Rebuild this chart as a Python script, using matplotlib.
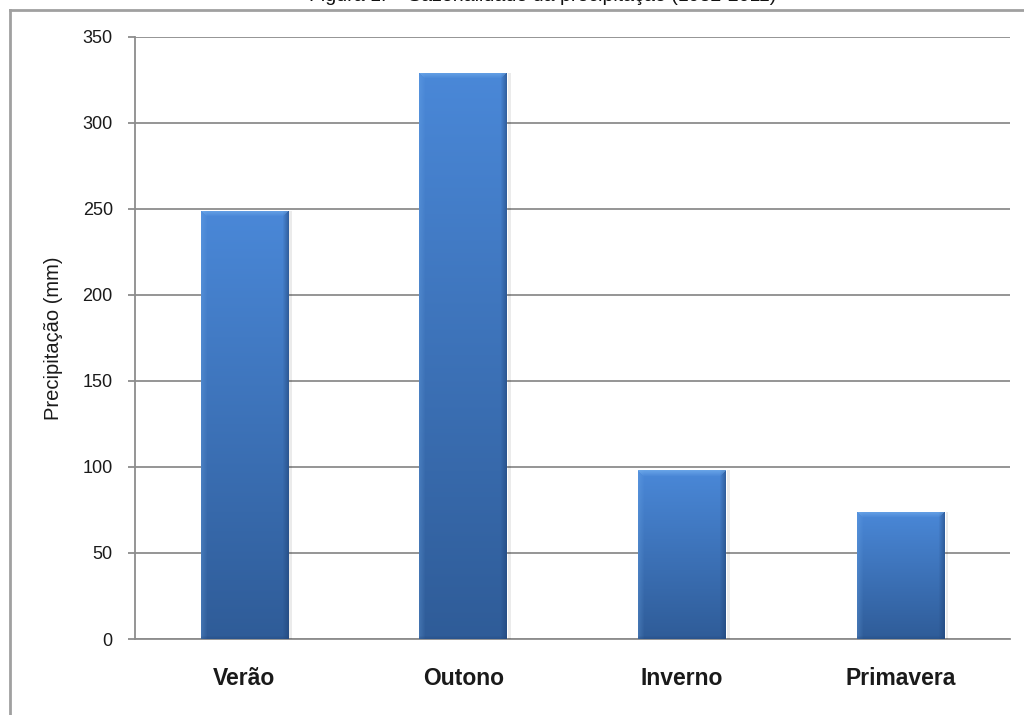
import numpy as np
import matplotlib
matplotlib.use("Agg")
import matplotlib.pyplot as plt
from matplotlib.colors import to_rgb
from matplotlib.lines import Line2D

categories = ["Verão", "Outono", "Inverno", "Primavera"]
values = [249, 329, 98, 74]
yticks = [0, 50, 100, 150, 200, 250, 300, 350]
title = "Figura 1. – Sazonalidade da precipitação (1982-2011)"
ylabel = "Precipitação (mm)"

plt.rcParams['font.family'] = ['Liberation Sans', 'DejaVu Sans']

fig = plt.figure(figsize=(10.24, 7.15), dpi=100)
ax = fig.add_axes([135/1024, 1-639/715, 875/1024, (639-36.7)/715])

x = np.arange(len(categories))
bars = ax.bar(x, values, width=0.40, color="#3f78c4", zorder=3)

ax.set_xlim(-0.5, len(categories)-0.5)
ax.set_ylim(0, 350)
ax.set_yticks(yticks)
ax.set_xticks(x)
ax.set_xticklabels(categories, fontsize=16.5, fontweight='bold', color="#1a1a1a")
ax.tick_params(axis='x', length=0, pad=20)
ax.tick_params(axis='y', length=5, width=1.3, color="#8c8c8c", pad=11,
               labelsize=13, labelcolor="#1a1a1a")
ax.grid(axis='y', color="#8c8c8c", linewidth=1.3, zorder=1)
for s in ['top', 'right']:
    ax.spines[s].set_visible(False)
for s in ['left', 'bottom']:
    ax.spines[s].set_color("#8c8c8c")
    ax.spines[s].set_linewidth(1.3)
    ax.spines[s].set_zorder(2)
ax.set_ylabel(ylabel, fontsize=14.5, color="#1a1a1a", labelpad=14)
ax.yaxis.label.set_stretch('condensed')

fig.canvas.draw()
top_c = np.array(to_rgb("#4a88d8"))
bot_c = np.array(to_rgb("#2f5c98"))
hi_c = np.array(to_rgb("#7ab4f0"))
dark_c = np.array(to_rgb("#1f4275"))
for b in bars:
    x0, y0 = b.get_x(), b.get_y()
    w, h = b.get_width(), b.get_height()
    p0 = ax.transData.transform((x0, y0))
    p1 = ax.transData.transform((x0 + w, y0 + h))
    W = max(int(round(p1[0]-p0[0])), 2)
    H = max(int(round(p1[1]-p0[1])), 2)
    t = np.linspace(0, 1, H)[:, None]
    img = top_c[None, None, :] * (1-t[..., None]) + bot_c[None, None, :] * t[..., None]
    img = np.repeat(img, W, axis=1)
    bev = 6
    for i in range(bev):
        f = 0.25 * (1 - i/bev)
        img[:, i, :] = img[:, i, :]*(1-f) + hi_c*f
    for i in range(bev):
        f = 0.55 * (1 - i/bev)
        img[:, W-1-i, :] = img[:, W-1-i, :]*(1-f) + dark_c*f
    for j in range(bev):
        f = 0.6 * (1 - j/bev)
        lo = j
        hi = W - j
        img[j, lo:hi, :] = img[j, lo:hi, :]*(1-f) + hi_c*f
    for j in range(3):
        f = 0.3 * (1 - j/3)
        img[H-1-j, :, :] = img[H-1-j, :, :]*(1-f) + dark_c*f
    im = ax.imshow(img, extent=(x0, x0+w, y0, y0+h), aspect='auto',
                   origin='upper', zorder=4, interpolation='bilinear')
    im.set_clip_path(b)
    ax.bar(x0 + w + 0.006, h, width=0.012, bottom=y0, align='edge',
           color="#000000", alpha=0.08, zorder=2.5, linewidth=0)

fig.add_artist(Line2D([9.5/1024, 9.5/1024], [0, 1-10/715], transform=fig.transFigure,
                      color="#a0a0a0", linewidth=2))
fig.add_artist(Line2D([9.5/1024, 1], [1-10/715, 1-10/715], transform=fig.transFigure,
                      color="#a0a0a0", linewidth=2))

fig.text(0.53, 1.0 + 4/715, title, ha='center', va='center', fontsize=14, color="#111111")

fig.savefig("out.png", dpi=100)
